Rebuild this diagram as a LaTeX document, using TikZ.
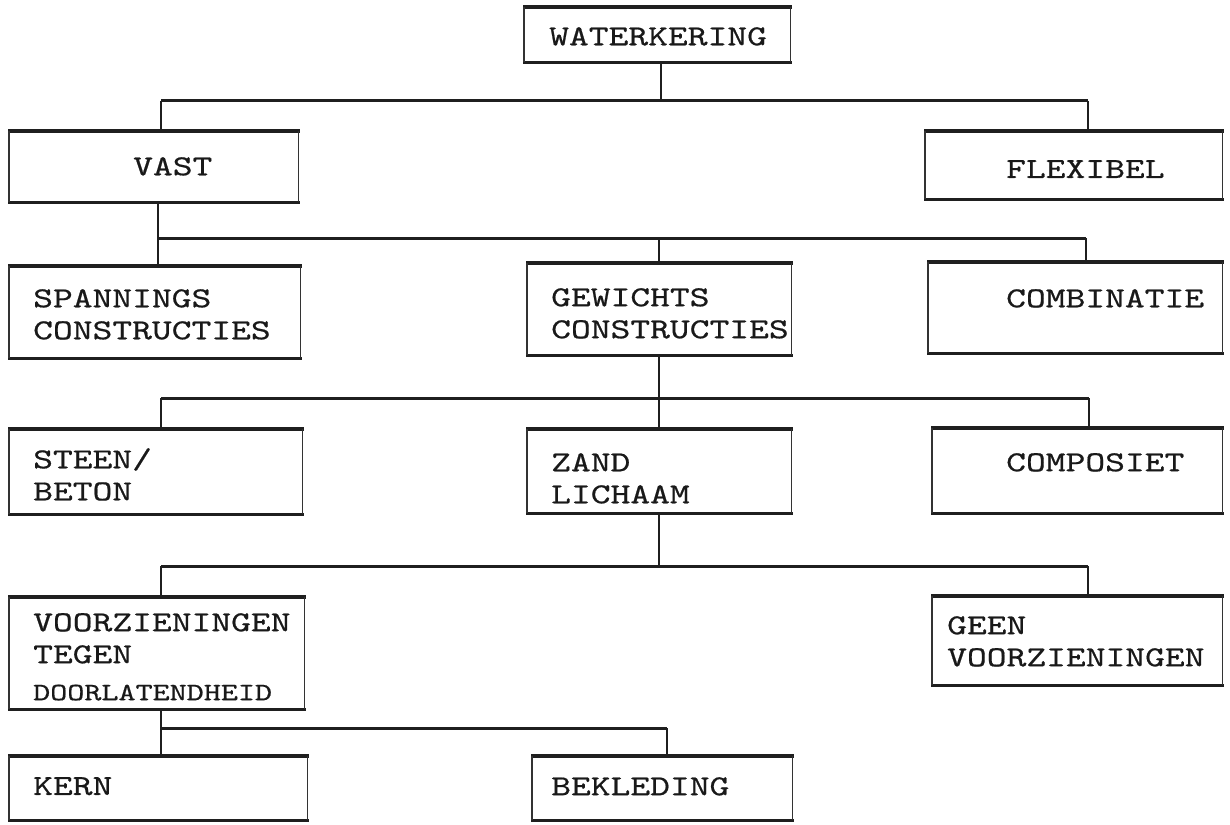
\documentclass[tikz,border=0pt]{standalone}
\usepackage{fontspec}
\newfontfamily\tw[FakeStretch=1.3,FakeBold=0.6]{lmmono10-regular.otf}
\begin{document}
\begin{tikzpicture}[x=1pt,y=-1pt,
  box/.style={rectangle,draw=none,inner sep=0pt,anchor=north west},
  lbl/.style={anchor=north west,inner sep=0pt,align=left,text=black!90,font=\tw\fontsize{29}{32}\selectfont},
  hl/.style={line width=3.2pt,draw=black!88},
  vl/.style={line width=1.1pt,draw=black!80},
  cl/.style={line width=1.8pt,draw=black!88},
  bus/.style={line width=3pt,draw=black!88}]
\useasboundingbox (0,0) rectangle (1230,824);
\newcommand{\frm}[1]{%
  \draw[hl] ([xshift=-1pt]#1.north west) -- ([xshift=2pt]#1.north east);
  \draw[hl] ([xshift=-1pt]#1.south west) -- ([xshift=2pt]#1.south east);
  \draw[vl] (#1.north west) -- (#1.south west);
  \draw[vl] (#1.north east) -- (#1.south east);}
% boxes
\node[box,minimum width=266pt,minimum height=55pt] (water) at (524,7) {};
\node[box,minimum width=289pt,minimum height=71pt] (vast) at (9,131) {};
\node[box,minimum width=297pt,minimum height=68pt] (flex) at (925,131) {};
\node[box,minimum width=291pt,minimum height=92pt] (span) at (9,266) {};
\node[box,minimum width=264pt,minimum height=92pt] (gew) at (527,263) {};
\node[box,minimum width=294pt,minimum height=91pt] (comb) at (928,262) {};
\node[box,minimum width=293pt,minimum height=85pt] (steen) at (9,429) {};
\node[box,minimum width=264pt,minimum height=84pt] (zand) at (527,429) {};
\node[box,minimum width=290pt,minimum height=85pt] (comp) at (932,428) {};
\node[box,minimum width=295pt,minimum height=112pt] (voorz) at (9,597) {};
\node[box,minimum width=290pt,minimum height=89pt] (geen) at (932,596) {};
\node[box,minimum width=298pt,minimum height=64pt] (kern) at (9,756) {};
\node[box,minimum width=260pt,minimum height=64pt] (bekl) at (532,756) {};
\foreach \n in {water,vast,flex,span,gew,comb,steen,zand,comp,voorz,geen,kern,bekl}{\frm{\n}}
% labels
\node[lbl] (twater) at (549,27) {WATERKERING};
\node[lbl] (tvast) at (133,157) {VAST};
\node[lbl] (tflex) at (1006,160) {FLEXIBEL};
\node[lbl] (tspan) at (33,289) {SPANNINGS\\CONSTRUCTIES};
\node[lbl] (tgew) at (551,288) {GEWICHTS\\CONSTRUCTIES};
\node[lbl] (tcomb) at (1006,289) {COMBINATIE};
\node[lbl] (tsteen) at (33,448) {STEEN/\\BETON};
\node[lbl] (tzand) at (551,453) {ZAND\\LICHAAM};
\node[lbl] (tcomp) at (1006,453) {COMPOSIET};
\node[lbl] (tvoorz) at (33,613) {VOORZIENINGEN\\TEGEN\\[5pt]{\fontsize{25}{32}\selectfont DOORLATENDHEID}};
\node[lbl] (tgeen) at (947,616) {GEEN\\VOORZIENINGEN};
\node[lbl] (tkern) at (33,777) {KERN};
\node[lbl] (tbekl) at (551,777) {BEKLEDING};
% bus coordinates
\coordinate (j1) at (661,101);
\coordinate (b1l) at (161,101); \coordinate (b1r) at (1088,101);
\coordinate (j2) at (158,238);
\coordinate (b2m) at (659,238); \coordinate (b2r) at (1086,238);
\coordinate (j3) at (659,398);
\coordinate (b3l) at (161,398); \coordinate (b3r) at (1089,398);
\coordinate (j4) at (659,566);
\coordinate (b4l) at (161,566); \coordinate (b4r) at (1088,566);
\coordinate (j5) at (161,728);
\coordinate (b5r) at (667,728);
% connectors
\draw[cl] (water.south -| j1) -- (j1);
\draw[bus] (b1l) -- (b1r);
\draw[cl] (b1l) -- (b1l |- vast.north);
\draw[cl] (b1r) -- (b1r |- flex.north);
\draw[cl] (vast.south -| j2) -- (j2 |- span.north);
\draw[bus] (j2) -- (b2r);
\draw[cl] (b2m) -- (b2m |- gew.north);
\draw[cl] (b2r) -- (b2r |- comb.north);
\draw[cl] (gew.south -| j3) -- (j3 |- zand.north);
\draw[bus] (b3l) -- (b3r);
\draw[cl] (b3l) -- (b3l |- steen.north);
\draw[cl] (b3r) -- (b3r |- comp.north);
\draw[cl] (zand.south -| j4) -- (j4);
\draw[bus] (b4l) -- (b4r);
\draw[cl] (b4l) -- (b4l |- voorz.north);
\draw[cl] (b4r) -- (b4r |- geen.north);
\draw[cl] (voorz.south -| j5) -- (j5 |- kern.north);
\draw[bus] (j5) -- (b5r);
\draw[cl] (b5r) -- (b5r |- bekl.north);
\end{tikzpicture}
\end{document}
